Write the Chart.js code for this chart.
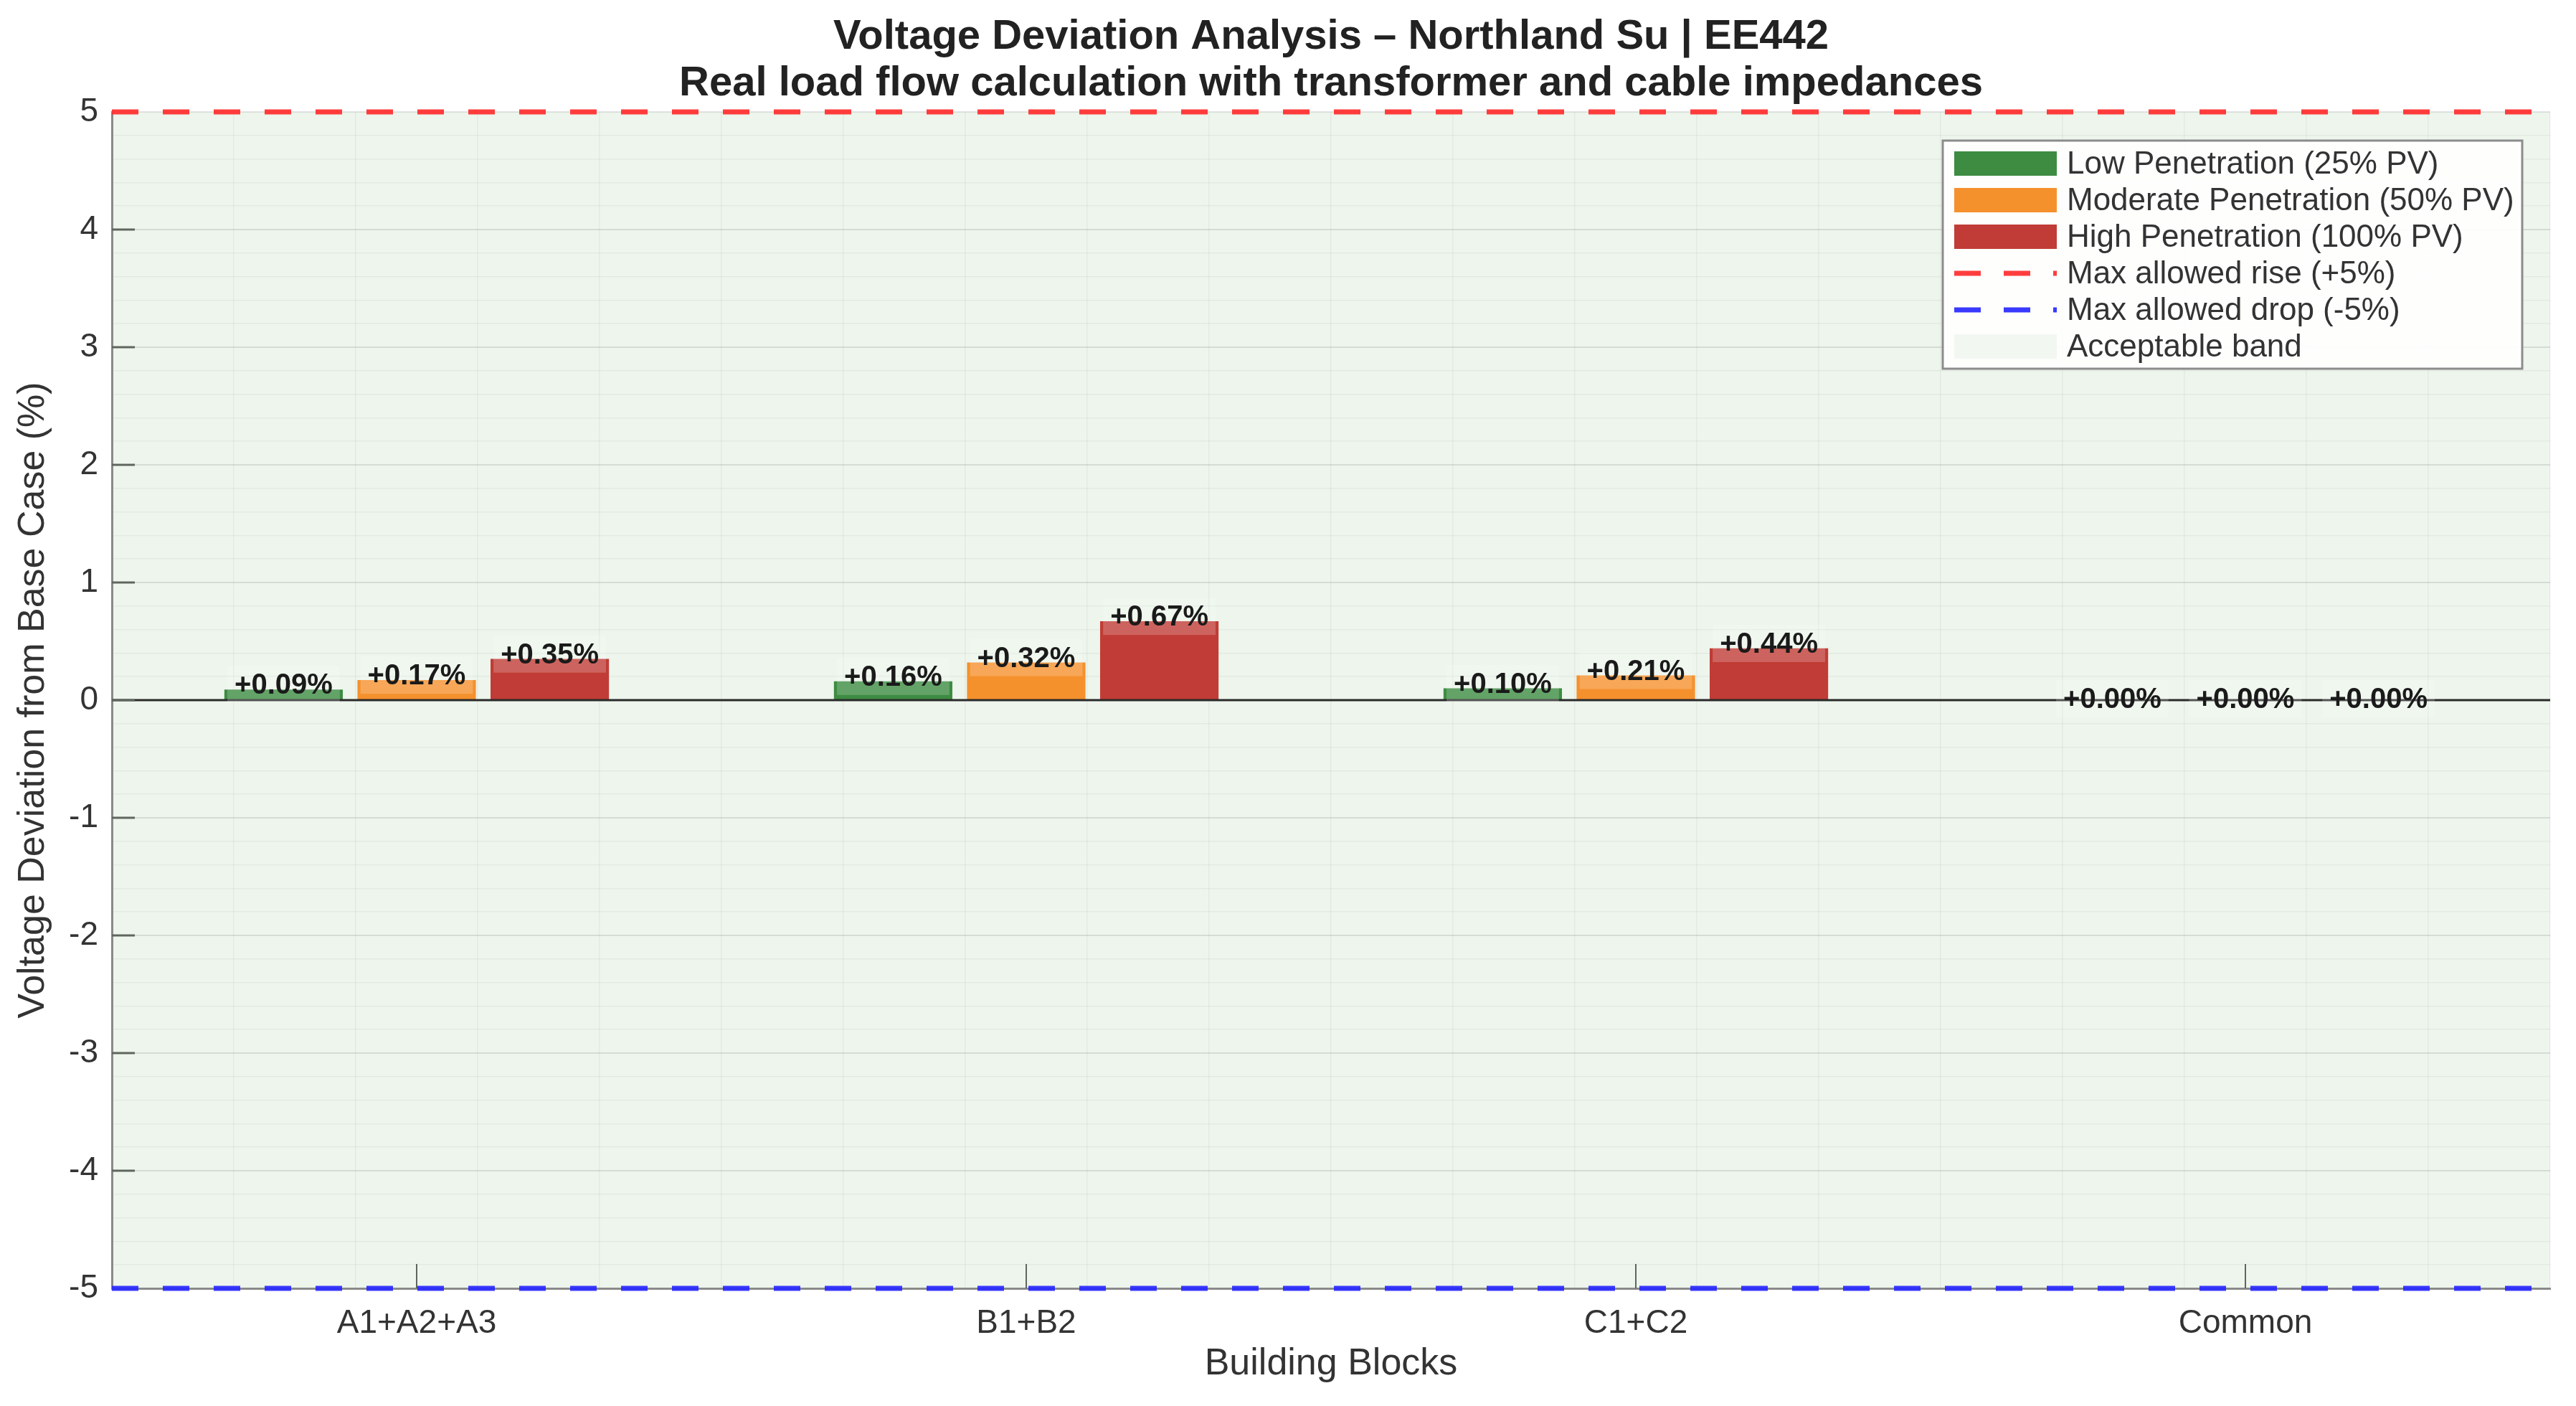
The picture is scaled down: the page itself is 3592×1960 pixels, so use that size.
<!DOCTYPE html>
<html>
<head>
<meta charset="utf-8">
<script src="https://cdn.jsdelivr.net/npm/chart.js@4/dist/chart.umd.min.js"></script>
<style>
  html, body { margin: 0; padding: 0; background: #ffffff; }
  canvas { display: block; }
</style>
</head>
<body>
<canvas id="c" width="3592" height="1960"></canvas>
<script>
// ---- Data ----
const categories = ['A1+A2+A3', 'B1+B2', 'C1+C2', 'Common'];
const lowPenetration = [0.09, 0.16, 0.10, 0.00];
const moderatePenetration = [0.17, 0.32, 0.21, 0.00];
const highPenetration = [0.35, 0.67, 0.44, 0.00];
const seriesNames = ['Low Penetration (25% PV)', 'Moderate Penetration (50% PV)', 'High Penetration (100% PV)'];
const refLineNames = ['Max allowed rise (+5%)', 'Max allowed drop (-5%)', 'Acceptable band'];
const maxRise = 5;
const maxDrop = -5;
const yRange = [-5, 5];
const xRange = [-0.5, 3.5];
const titleLines = ['Voltage Deviation Analysis \u2013 Northland Su | EE442', 'Real load flow calculation with transformer and cable impedances'];

const FONT = '"Liberation Sans", Arial, Helvetica, sans-serif';
const colors = ['#3d8c42', '#f5912d', '#c13c36'];
const riseColor = 'rgba(255,45,45,0.92)';
const dropColor = 'rgba(40,40,255,0.92)';
const isInt = v => Math.abs(v - Math.round(v)) < 1e-6;

const bgPlugin = {
  id: 'bg',
  beforeDraw(chart) {
    const {ctx, chartArea: a} = chart;
    ctx.save();
    ctx.fillStyle = '#edf5ec';
    ctx.fillRect(a.left, a.top, a.right - a.left, a.bottom - a.top);
    ctx.restore();
  }
};

// title centred over the plot area
const titlePlugin = {
  id: 'axesTitle',
  afterDraw(chart) {
    const {ctx, chartArea: a} = chart;
    const cx = (a.left + a.right) / 2;
    ctx.save();
    ctx.font = 'bold 58px ' + FONT;
    ctx.fillStyle = '#222222';
    ctx.textAlign = 'center';
    ctx.textBaseline = 'middle';
    titleLines.forEach((t, i) => ctx.fillText(t, cx, 52 + i * 65));
    ctx.restore();
  }
};

// horizontal reference lines drawn through the y scale
const refLinesPlugin = {
  id: 'refLines',
  afterDatasetsDraw(chart) {
    const {ctx, chartArea: a} = chart;
    const y = chart.scales.y;
    ctx.save();
    const y0 = y.getPixelForValue(0);
    ctx.strokeStyle = '#2a2a2a';
    ctx.lineWidth = 3;
    ctx.beginPath(); ctx.moveTo(a.left, y0); ctx.lineTo(a.right, y0); ctx.stroke();
    [[maxRise, riseColor], [maxDrop, dropColor]].forEach(([v, c]) => {
      const py = y.getPixelForValue(v);
      ctx.strokeStyle = c;
      ctx.lineWidth = 7;
      ctx.setLineDash([37, 34]);
      ctx.beginPath(); ctx.moveTo(a.left, py); ctx.lineTo(a.right, py); ctx.stroke();
    });
    ctx.setLineDash([]);
    ctx.restore();
  }
};

const labelPlugin = {
  id: 'barLabels',
  afterDatasetsDraw(chart) {
    const {ctx} = chart;
    const y = chart.scales.y;
    ctx.save();
    ctx.font = 'bold 40px ' + FONT;
    ctx.textAlign = 'center';
    ctx.textBaseline = 'middle';
    chart.data.datasets.forEach((ds, di) => {
      const meta = chart.getDatasetMeta(di);
      meta.data.forEach((bar, i) => {
        const v = ds.data[i];
        const txt = (v >= 0 ? '+' : '') + v.toFixed(2) + '%';
        const py = y.getPixelForValue(v + 0.03 * Math.sign(v)) - 2;
        const w = ctx.measureText(txt).width;
        ctx.fillStyle = 'rgba(255,255,255,0.2)';
        ctx.fillRect(bar.x - w / 2 - 10, py - 26, w + 20, 52);
        ctx.fillStyle = '#1a1a1a';
        ctx.fillText(txt, bar.x, py + 2);
      });
    });
    ctx.restore();
  }
};

const tickPlugin = {
  id: 'inTicks',
  afterDraw(chart) {
    const {ctx, chartArea: a} = chart;
    const y = chart.scales.y, x = chart.scales.x;
    ctx.save();
    ctx.strokeStyle = '#5e665e';
    ctx.lineWidth = 3;
    for (let v = yRange[0] + 1; v < yRange[1]; v++) {
      const py = y.getPixelForValue(v);
      ctx.beginPath(); ctx.moveTo(a.left, py); ctx.lineTo(a.left + 32, py); ctx.stroke();
    }
    ctx.lineWidth = 2;
    categories.forEach((c, i) => {
      const px = x.getPixelForValue(i);
      ctx.beginPath(); ctx.moveTo(px, a.bottom); ctx.lineTo(px, a.bottom - 34); ctx.stroke();
    });
    ctx.restore();
  }
};

const legendPlugin = {
  id: 'boxLegend',
  afterDraw(chart) {
    const {ctx} = chart;
    const L = 2709, T = 196, R = 3517, B = 514;
    ctx.save();
    ctx.fillStyle = 'rgba(255,255,255,0.9)';
    ctx.fillRect(L, T, R - L, B - T);
    ctx.strokeStyle = '#8c8c8c';
    ctx.lineWidth = 3;
    ctx.strokeRect(L, T, R - L, B - T);
    const sx = 2725, sw = 143, tx = 2882;
    const rows = [
      {label: seriesNames[0], kind: 'rect', color: colors[0]},
      {label: seriesNames[1], kind: 'rect', color: colors[1]},
      {label: seriesNames[2], kind: 'rect', color: colors[2]},
      {label: refLineNames[0], kind: 'dash', color: riseColor},
      {label: refLineNames[1], kind: 'dash', color: dropColor},
      {label: refLineNames[2], kind: 'rect', color: '#f2f8f1'}
    ];
    ctx.font = '44px ' + FONT;
    ctx.textBaseline = 'middle';
    ctx.textAlign = 'left';
    rows.forEach((r, i) => {
      const cy = 228 + i * 51;
      if (r.kind === 'rect') {
        ctx.fillStyle = r.color;
        ctx.fillRect(sx, cy - 17, sw, 34);
      } else {
        ctx.strokeStyle = r.color;
        ctx.lineWidth = 7;
        ctx.setLineDash([37, 32]);
        ctx.beginPath(); ctx.moveTo(sx, cy); ctx.lineTo(sx + sw, cy); ctx.stroke();
        ctx.setLineDash([]);
      }
      ctx.fillStyle = '#333333';
      ctx.fillText(r.label, tx, cy + 2);
    });
    ctx.restore();
  }
};

const gridColor = ctx => {
  if (!ctx.tick) return 'rgba(0,0,0,0)';
  return isInt(ctx.tick.value) ? 'rgba(0,0,0,0.10)' : 'rgba(0,0,0,0.045)';
};
const gridWidth = ctx => (ctx.tick && isInt(ctx.tick.value)) ? 2 : 1.5;

new Chart(document.getElementById('c'), {
  type: 'bar',
  data: {
    labels: categories,
    datasets: [
      {label: seriesNames[0], data: lowPenetration, backgroundColor: colors[0]},
      {label: seriesNames[1], data: moderatePenetration, backgroundColor: colors[1]},
      {label: seriesNames[2], data: highPenetration, backgroundColor: colors[2]}
    ]
  },
  options: {
    responsive: false,
    animation: false,
    devicePixelRatio: 1,
    layout: {padding: {left: 0, right: 36, top: 156, bottom: 0}},
    datasets: {bar: {categoryPercentage: 0.655, barPercentage: 0.89, borderWidth: 0}},
    plugins: {
      legend: {display: false},
      tooltip: {enabled: false},
      title: {display: false}
    },
    scales: {
      x: {
        type: 'category',
        position: 'bottom',
        offset: true,
        grid: {display: false, drawTicks: false},
        border: {display: true, color: '#8a8a8a', width: 3},
        ticks: {color: '#333333', font: {family: FONT, size: 46}, padding: 22, maxRotation: 0},
        title: {display: true, text: 'Building Blocks', color: '#333333',
                font: {family: FONT, size: 52, lineHeight: 1.2}, padding: {top: 0, bottom: 27}},
        afterFit: s => { s.height = 164; }
      },
      x2: {
        type: 'linear',
        position: 'bottom',
        min: xRange[0], max: xRange[1],
        offset: false,
        grid: {offset: false, drawTicks: false, color: gridColor, lineWidth: gridWidth},
        border: {display: false},
        ticks: {display: false, stepSize: 0.2, autoSkip: false, maxTicksLimit: 100},
        afterFit: s => { s.height = 0; }
      },
      y: {
        type: 'linear',
        min: yRange[0], max: yRange[1],
        grid: {drawTicks: false, color: gridColor, lineWidth: gridWidth},
        border: {display: true, color: '#8a8a8a', width: 3},
        ticks: {
          stepSize: 0.2, autoSkip: false, maxTicksLimit: 100,
          color: '#333333', font: {family: FONT, size: 46}, padding: 19,
          callback: v => isInt(v) ? String(Math.round(v)) : ''
        },
        title: {display: true, text: 'Voltage Deviation from Base Case (%)', color: '#333333',
                font: {family: FONT, size: 52, lineHeight: 1.2}, padding: {top: 15, bottom: 0}},
        afterFit: s => { s.width = 156; }
      }
    }
  },
  plugins: [bgPlugin, refLinesPlugin, labelPlugin, tickPlugin, legendPlugin, titlePlugin]
});
</script>
</body>
</html>
